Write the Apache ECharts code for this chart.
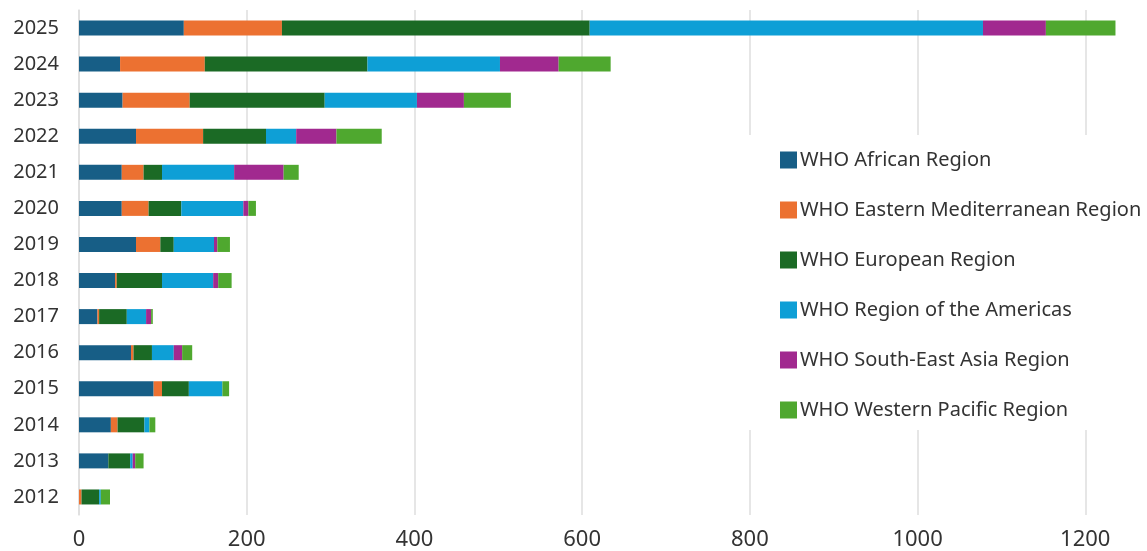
<!DOCTYPE html>
<html>
<head>
<meta charset="utf-8">
<script src="https://cdn.jsdelivr.net/npm/echarts@6/dist/echarts.min.js"></script>
<style>
  html, body { margin: 0; padding: 0; background: #fff; }
  #chart { width: 1147px; height: 551px; }
</style>
</head>
<body>
<div id="chart"></div>
<script>
// years, bottom to top
const years = ['2012', '2013', '2014', '2015', '2016', '2017', '2018', '2019', '2020', '2021', '2022', '2023', '2024', '2025']

const regions = [
  'WHO African Region',
  'WHO Eastern Mediterranean Region',
  'WHO European Region',
  'WHO Region of the Americas',
  'WHO South-East Asia Region',
  'WHO Western Pacific Region',
]

const african = [0, 35, 38, 89, 62, 22, 43, 68, 51, 51, 68, 52, 49, 125]
const easternMed = [3, 0, 8, 10, 3, 2, 2, 29, 32, 26, 80, 80, 101, 117]
const european = [21, 26, 32, 32, 22, 33, 54, 16, 39, 22, 75, 161, 194, 367]
const americas = [2, 3, 6, 40, 26, 23, 61, 48, 74, 86, 36, 110, 158, 469]
const southEastAsia = [0, 3, 0, 0, 10, 6, 6, 4, 6, 59, 48, 56, 70, 75]
const westernPacific = [11, 10, 7, 8, 12, 2, 16, 15, 9, 18, 54, 56, 62, 83]

const colors = ['#175e86', '#ec7131', '#1b6a25', '#0e9fd6', '#a1298f', '#4fa82f']

const values = [african, easternMed, european, americas, southEastAsia, westernPacific]

const chart = echarts.init(document.getElementById('chart'))

const option = {
  animation: false,
  color: colors,
  textStyle: { fontFamily: 'Noto Sans' },
  legend: {
    orient: 'vertical',
    left: 740,
    top: 135,
    padding: [15, 10, 10, 40],
    backgroundColor: '#fff', // legend box hides the grid lines behind it
    itemWidth: 17,
    itemHeight: 17,
    itemGap: 30,
    icon: 'rect',
    data: regions,
    textStyle: {
      fontSize: 20,
      color: '#333',
      padding: [0, 0, 0, -2],
    },
  },
  grid: {
    left: 79,
    right: -106, // axis runs past the window so no extra line after 1200
    top: 10,
    bottom: 36,
    outerBoundsMode: 'none',
  },
  xAxis: {
    type: 'value',
    min: 0,
    max: 1400,
    interval: 200,
    axisLine: { show: false },
    axisTick: { show: false },
    axisLabel: {
      fontSize: 22,
      color: '#333',
      margin: 14,
      formatter: (v) => String(v),
    },
    splitLine: { lineStyle: { color: '#dedede', width: 1.5 } },
  },
  yAxis: {
    type: 'category',
    data: years,
    axisLine: { show: true, lineStyle: { color: '#dedede', width: 1.5 } },
    axisTick: { show: false },
    axisLabel: { fontSize: 20, color: '#333', margin: 20 },
  },
  series: regions.map((name, i) => ({
    name,
    type: 'bar',
    stack: 'total',
    barWidth: 15,
    data: values[i],
  })),
}

chart.setOption(option)
window.addEventListener('resize', () => {
  chart.resize()
})
</script>
</body>
</html>
